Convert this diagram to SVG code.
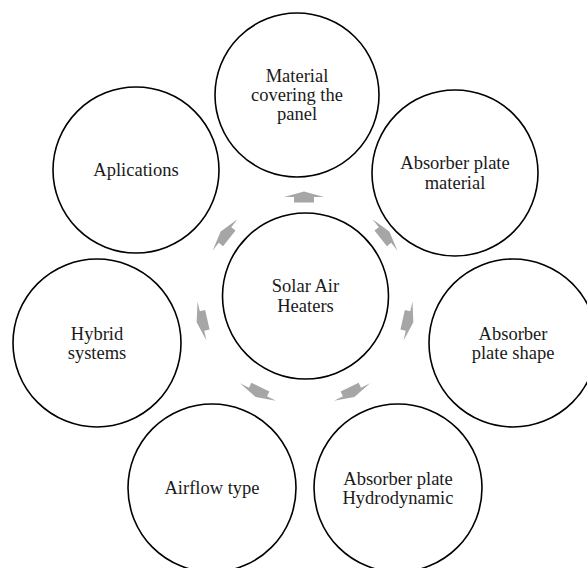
<svg xmlns="http://www.w3.org/2000/svg" width="587" height="568" viewBox="0 0 587 568">
<style>
.node circle{fill:#fff;stroke:#000;stroke-width:1.6}
.node text{font-family:"Liberation Serif","Times New Roman",serif;font-size:18.5px;fill:#1a1a1a;text-anchor:middle}
.arr{fill:#a6a6a6}
</style>
<defs>
<path id="ar" d="M0 -5.5 L20 0 L10 0 L10 5.5 L-10 5.5 L-10 0 L-20 0 Z"/>
</defs>
<rect width="587" height="568" fill="#fff"/>
<g id="connectors">
<use href="#ar" class="arr" transform="translate(304,197) rotate(0)"/>
<use href="#ar" class="arr" transform="translate(385,235) rotate(51.43)"/>
<use href="#ar" class="arr" transform="translate(408,321) rotate(102.86)"/>
<use href="#ar" class="arr" transform="translate(352,392) rotate(154.29)"/>
<use href="#ar" class="arr" transform="translate(258,392) rotate(205.71)"/>
<use href="#ar" class="arr" transform="translate(202,321) rotate(257.14)"/>
<use href="#ar" class="arr" transform="translate(225,235) rotate(308.57)"/>
</g>
<g id="center" class="node">
<circle cx="305.5" cy="296" r="83"/>
<text x="305.5" y="292">Solar Air</text>
<text x="305.5" y="312">Heaters</text>
</g>
<g id="n-material-covering" class="node">
<circle cx="297" cy="95" r="82"/>
<text x="297" y="82">Material</text>
<text x="297" y="101">covering the</text>
<text x="297" y="120">panel</text>
</g>
<g id="n-absorber-material" class="node">
<circle cx="455" cy="173" r="83"/>
<text x="455" y="169">Absorber plate</text>
<text x="455" y="188.5">material</text>
</g>
<g id="n-absorber-shape" class="node">
<circle cx="513" cy="343" r="84"/>
<text x="513" y="339.5">Absorber</text>
<text x="513" y="359">plate shape</text>
</g>
<g id="n-hydrodynamic" class="node">
<circle cx="398" cy="488" r="84"/>
<text x="398" y="485">Absorber plate</text>
<text x="398" y="504">Hydrodynamic</text>
</g>
<g id="n-airflow" class="node">
<circle cx="212" cy="488" r="84"/>
<text x="212" y="494">Airflow type</text>
</g>
<g id="n-hybrid" class="node">
<circle cx="97" cy="343" r="84"/>
<text x="97" y="339.5">Hybrid</text>
<text x="97" y="359">systems</text>
</g>
<g id="n-aplications" class="node">
<circle cx="136" cy="170" r="83"/>
<text x="136" y="176">Aplications</text>
</g>
</svg>
